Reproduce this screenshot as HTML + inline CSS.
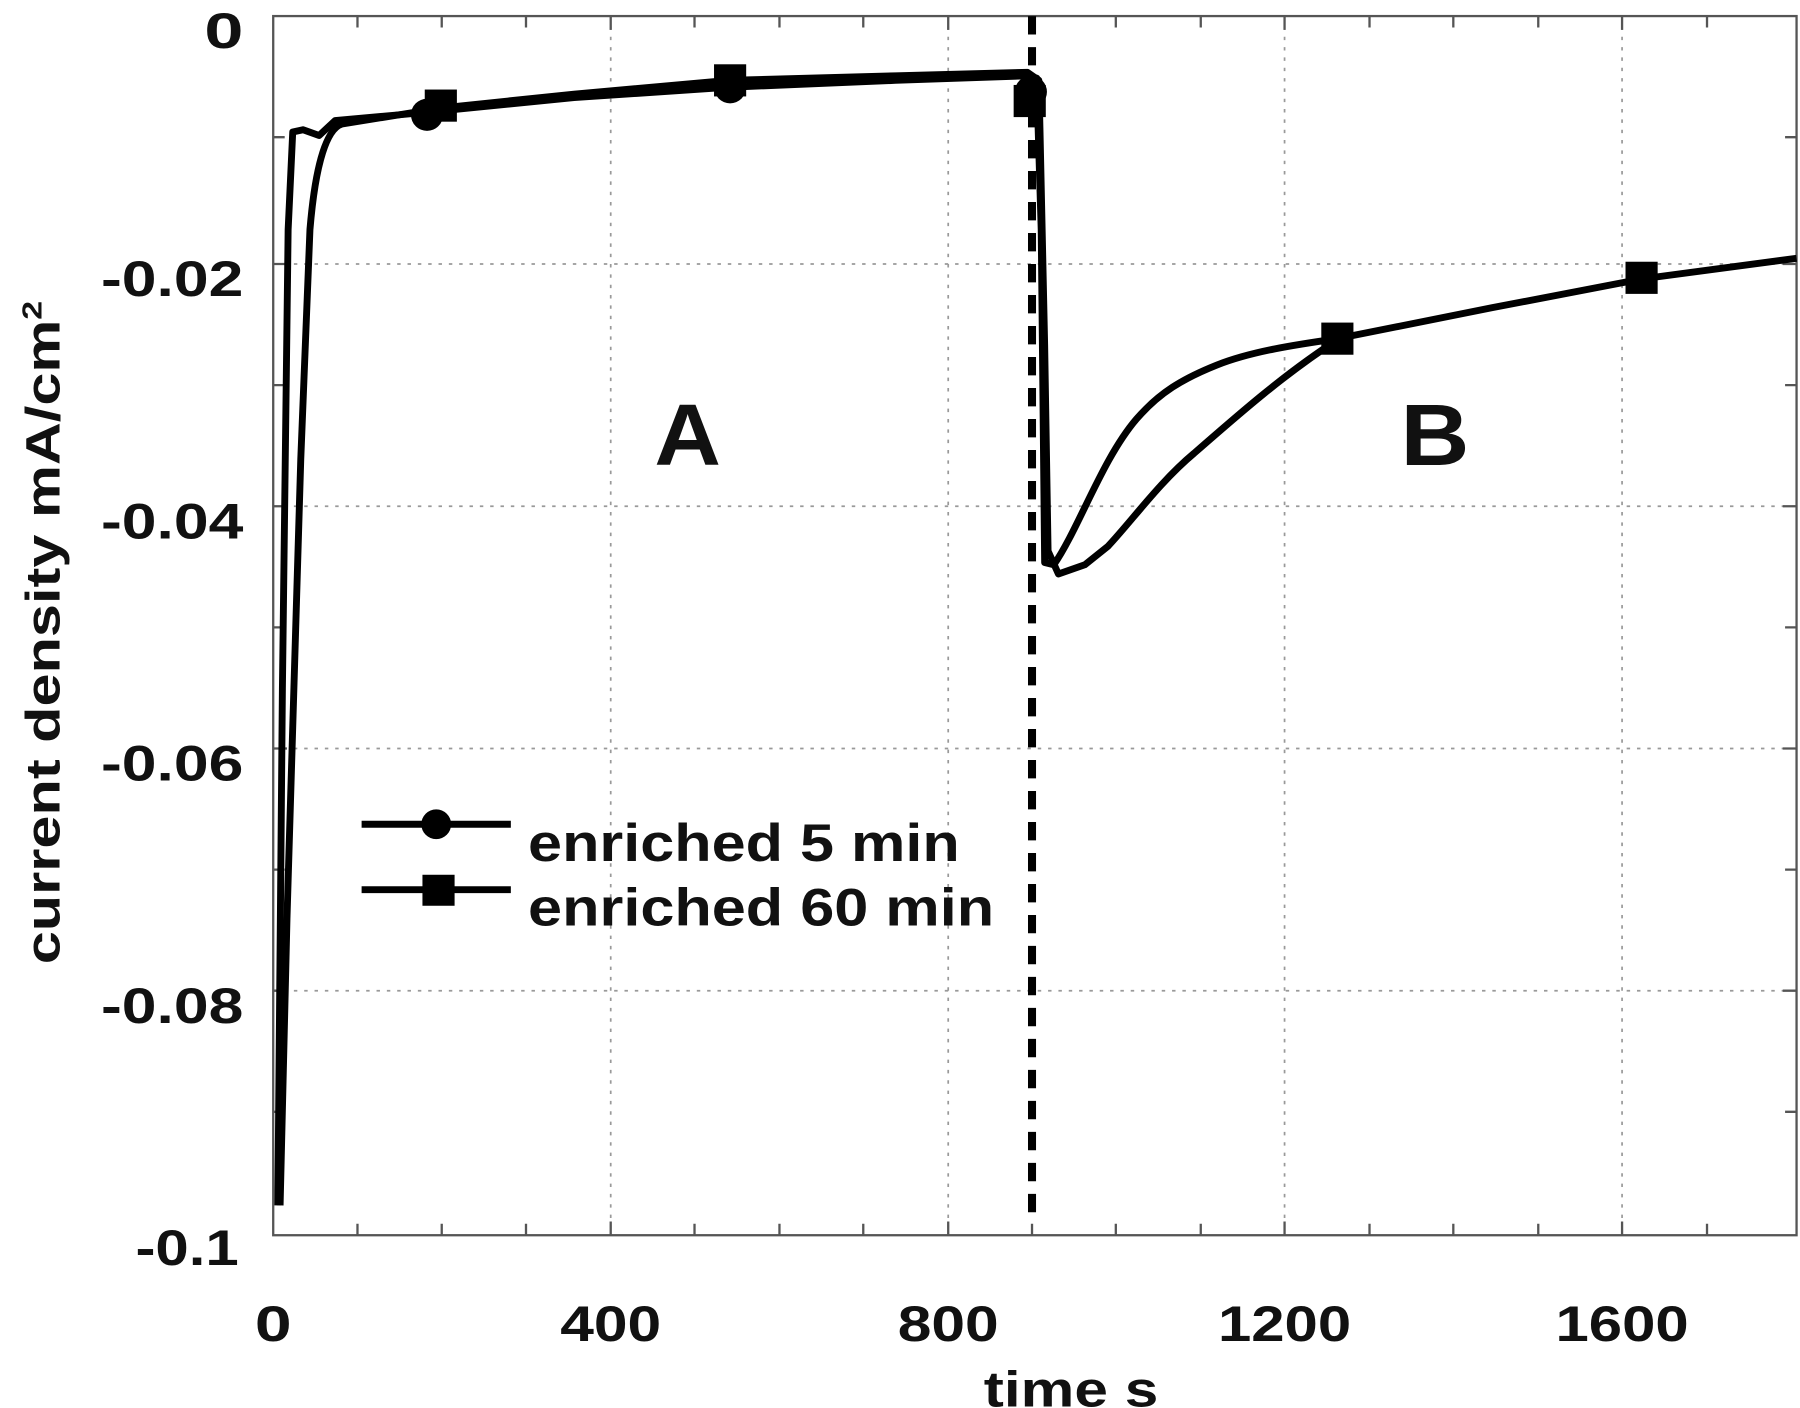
<!DOCTYPE html>
<html><head><meta charset="utf-8"><style>html,body{margin:0;padding:0;background:#fff}svg{display:block}</style></head>
<body>
<svg width="1800" height="1408" viewBox="0 0 1568 1226.5" preserveAspectRatio="none" xmlns="http://www.w3.org/2000/svg" font-family="Liberation Sans, sans-serif" font-weight="bold">
<rect width="1568" height="1226.5" fill="#fff"/>
<g stroke="#999" stroke-width="1.5" stroke-dasharray="3,6" fill="none">
<line x1="532" y1="14" x2="532" y2="1076"/><line x1="826" y1="14" x2="826" y2="1076"/><line x1="1119" y1="14" x2="1119" y2="1076"/><line x1="1413" y1="14" x2="1413" y2="1076"/>
<line x1="238" y1="230" x2="1565" y2="230"/><line x1="238" y1="441" x2="1565" y2="441"/><line x1="238" y1="652" x2="1565" y2="652"/><line x1="238" y1="863" x2="1565" y2="863"/>
</g>
<g stroke="#555" stroke-width="2">
<rect x="238" y="14" width="1327" height="1062" fill="none"/>
<path d="M311.4,1076v-10M384.8,1076v-10M458.2,1076v-10M532,1076v-12M605,1076v-10M679,1076v-10M752,1076v-10M826,1076v-12M899,1076v-10M972,1076v-10M1046,1076v-10M1119,1076v-12M1193,1076v-10M1266,1076v-10M1340,1076v-10M1413,1076v-12M1487,1076v-10
M311.4,14v10M384.8,14v10M458.2,14v10M532,14v12M605,14v10M679,14v10M752,14v10M826,14v12M899,14v10M972,14v10M1046,14v10M1119,14v12M1193,14v10M1266,14v10M1340,14v10M1413,14v12M1487,14v10
M238,119.5h10M238,230h12M238,335.5h10M238,441h12M238,546.5h10M238,652h12M238,757.5h10M238,863h12M238,968.5h10
M1565,119.5h-10M1565,230h-12M1565,335.5h-10M1565,441h-12M1565,546.5h-10M1565,652h-12M1565,757.5h-10M1565,863h-12M1565,968.5h-10"/>
</g>
<line x1="899" y1="14" x2="899" y2="1062" stroke="#000" stroke-width="7" stroke-dasharray="16,11"/>
<g fill="none" stroke="#000" stroke-width="6" stroke-linejoin="round">
<path d="M242,1050 L246,600 L251,200 L255,115 L264,113 L278,118 L292,105 L370,98 L500,85 L635,76 L780,70 L895,66 L903,68 L907,200 L910,490 L918,492 C940,460 960,400 990,365 C1010,342 1030,330 1060,318 C1090,306 1130,300 1165,295 L1300,268 L1430,243 L1565,225"/>
<path d="M244,1050 L250,800 L262,400 L270,200 C275,140 285,112 298,108 L385,94 L500,82 L635,70 L780,66 L895,63 L905,70 L910,300 L913,480 L922,500 L945,492 L965,476 C985,455 1010,420 1040,395 C1080,360 1120,325 1165,296"/>
</g>
<g fill="#000">
<circle cx="372" cy="100" r="14"/><circle cx="636" cy="76" r="14"/><circle cx="898" cy="80" r="14"/>
<rect x="370" y="78" width="28" height="28"/><rect x="622" y="56" width="28" height="28"/><rect x="883" y="74" width="28" height="28"/><rect x="1151" y="281" width="28" height="28"/><rect x="1416" y="228" width="28" height="28"/>
</g>
<g stroke="#000" stroke-width="6"><line x1="315" y1="718" x2="445" y2="718"/><line x1="315" y1="775" x2="445" y2="775"/></g>
<circle cx="380" cy="718" r="13"/><rect x="368" y="762" width="28" height="27"/>
<g font-size="46" fill="#111">
<text x="460" y="750" textLength="376" lengthAdjust="spacingAndGlyphs">enriched 5 min</text>
<text x="460" y="806" textLength="406" lengthAdjust="spacingAndGlyphs">enriched 60 min</text>
</g>
<g font-size="76" fill="#111"><text x="570" y="405" textLength="58" lengthAdjust="spacingAndGlyphs">A</text><text x="1220" y="405" textLength="60" lengthAdjust="spacingAndGlyphs">B</text></g>
<g font-size="44" fill="#111">
<text x="178" y="42" textLength="34" lengthAdjust="spacingAndGlyphs">0</text>
<text x="88" y="258" textLength="124" lengthAdjust="spacingAndGlyphs">-0.02</text>
<text x="88" y="469" textLength="124" lengthAdjust="spacingAndGlyphs">-0.04</text>
<text x="88" y="680" textLength="124" lengthAdjust="spacingAndGlyphs">-0.06</text>
<text x="88" y="891" textLength="124" lengthAdjust="spacingAndGlyphs">-0.08</text>
<text x="118" y="1102" textLength="90" lengthAdjust="spacingAndGlyphs">-0.1</text>
</g>
<g font-size="44" fill="#111">
<text x="222" y="1168" textLength="32" lengthAdjust="spacingAndGlyphs">0</text>
<text x="488" y="1168" textLength="88" lengthAdjust="spacingAndGlyphs">400</text>
<text x="782" y="1168" textLength="88" lengthAdjust="spacingAndGlyphs">800</text>
<text x="1061" y="1168" textLength="116" lengthAdjust="spacingAndGlyphs">1200</text>
<text x="1355" y="1168" textLength="116" lengthAdjust="spacingAndGlyphs">1600</text>
<text x="857" y="1225" textLength="152" lengthAdjust="spacingAndGlyphs">time s</text>
</g>
<text transform="translate(52,840) rotate(-90)" font-size="42" fill="#111" textLength="578" lengthAdjust="spacingAndGlyphs">current density mA/cm<tspan font-size="24" dy="-16">2</tspan></text>
</svg>
</body></html>
